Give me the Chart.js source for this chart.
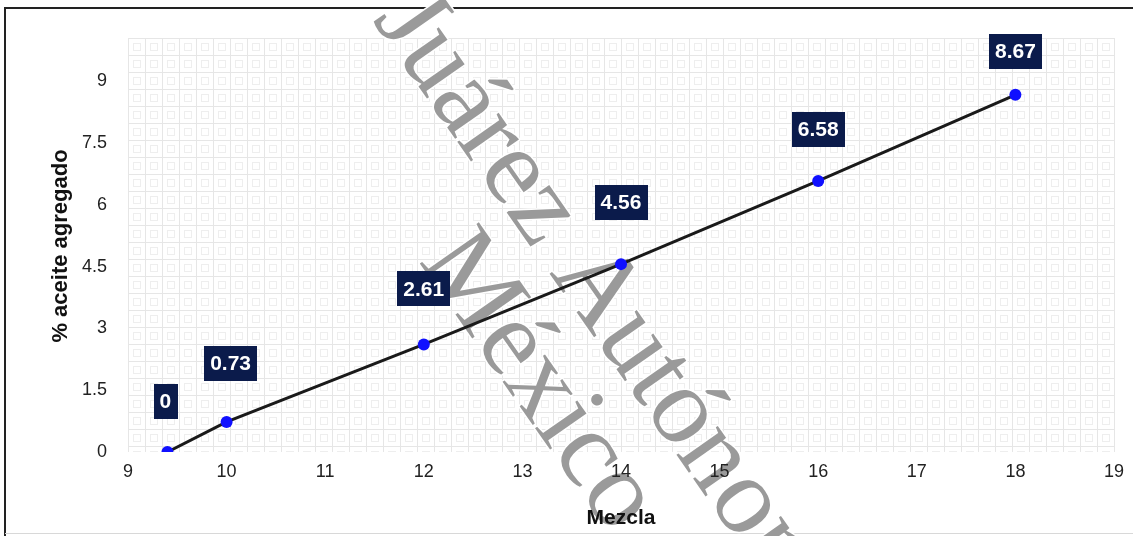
<!DOCTYPE html>
<html>
<head>
<meta charset="utf-8">
<script src="https://cdn.jsdelivr.net/npm/chart.js@4"></script>
<style>
  html, body { margin: 0; padding: 0; background: #ffffff; }
  #wrap { width: 1133px; height: 536px; }
</style>
</head>
<body>
<div id="wrap"><canvas id="c" width="1133" height="536"></canvas></div>
<script>
// Mezcla vs. % de aceite agregado
const mezcla = [9.4, 10, 12, 14, 16, 18];
const aceite = [0, 0.73, 2.61, 4.56, 6.58, 8.67];
const xTicks = [9, 10, 11, 12, 13, 14, 15, 16, 17, 18, 19];
const yTicks = [0, 1.5, 3, 4.5, 6, 7.5, 9];
const watermarkLines = ['Juárez Autónoma', 'México'];

const SANS = '"Liberation Sans", Arial, sans-serif';

// light graph-paper tile for the plot background
function makeTile() {
  const t = document.createElement('canvas');
  t.width = 17; t.height = 17;
  const g = t.getContext('2d');
  g.fillStyle = '#ffffff';
  g.fillRect(0, 0, 17, 17);
  g.strokeStyle = '#e6e6e6';
  g.lineWidth = 1;
  g.beginPath();
  g.moveTo(0.5, 0); g.lineTo(0.5, 17);
  g.moveTo(0, 0.5); g.lineTo(17, 0.5);
  g.stroke();
  g.strokeStyle = '#eeeeee';
  g.strokeRect(5.5, 5.5, 7, 7);
  return t;
}

const backdrop = {
  id: 'backdrop',
  beforeDraw(chart) {
    const { ctx, chartArea: a, width, height } = chart;
    ctx.save();
    // frame
    ctx.strokeStyle = '#222222';
    ctx.lineWidth = 2;
    ctx.beginPath();
    ctx.moveTo(5, height);
    ctx.lineTo(5, 8);
    ctx.lineTo(width, 8);
    ctx.stroke();
    ctx.strokeStyle = '#d8d8d8';
    ctx.lineWidth = 1;
    ctx.beginPath();
    ctx.moveTo(5, 533.5);
    ctx.lineTo(width, 533.5);
    ctx.stroke();

    // graph paper
    const pat = ctx.createPattern(makeTile(), 'repeat');
    ctx.translate(a.left, a.top - 2);
    ctx.fillStyle = pat;
    ctx.fillRect(0, 0, a.right - a.left + 1, a.bottom - a.top + 2);
    ctx.restore();

    // diagonal watermark
    const wm = chart.options.plugins.backdrop.watermark;
    ctx.save();
    ctx.font = wm.size + 'px "Liberation Serif", "DejaVu Serif", serif';
    ctx.textBaseline = 'alphabetic';
    ctx.textAlign = 'left';
    ctx.lineJoin = 'round';
    watermarkLines.forEach((txt, i) => {
      const o = wm.origins[i];
      ctx.save();
      ctx.translate(o[0], o[1]);
      ctx.rotate(wm.angle * Math.PI / 180);
      ctx.strokeStyle = '#ffffff';
      ctx.lineWidth = 3;
      ctx.strokeText(txt, 0, 0);
      ctx.fillStyle = '#9a9a9a';
      ctx.fillText(txt, 0, 0);
      ctx.restore();
    });
    ctx.restore();
  }
};

// value boxes above each point
const valueBoxes = {
  id: 'valueBoxes',
  afterDatasetsDraw(chart) {
    const { ctx } = chart;
    const opts = chart.options.plugins.valueBoxes;
    const meta = chart.getDatasetMeta(0);
    ctx.save();
    ctx.font = 'bold 21px ' + SANS;
    ctx.textAlign = 'center';
    ctx.textBaseline = 'middle';
    meta.data.forEach((pt, i) => {
      const txt = String(aceite[i]);
      const w = ctx.measureText(txt).width + 12;
      const h = 35;
      const cx = pt.x + (opts.shiftX[i] || 0);
      const bottom = pt.y - opts.lift[i];
      ctx.fillStyle = '#0b1b4b';
      ctx.fillRect(Math.round(cx - w / 2), Math.round(bottom - h), Math.round(w), h);
      ctx.fillStyle = '#ffffff';
      ctx.fillText(txt, cx, bottom - h / 2 + 1);
    });
    ctx.restore();
  }
};

const ctx = document.getElementById('c').getContext('2d');
new Chart(ctx, {
  type: 'scatter',
  data: {
    datasets: [{
      label: '% aceite agregado',
      data: mezcla.map((x, i) => ({ x: x, y: aceite[i] })),
      showLine: true,
      borderColor: '#1a1a1a',
      borderWidth: 3,
      pointRadius: 6,
      pointHoverRadius: 6,
      pointBackgroundColor: '#1010ff',
      pointBorderColor: '#1010ff',
      pointBorderWidth: 0,
      tension: 0
    }]
  },
  options: {
    responsive: false,
    animation: false,
    devicePixelRatio: 1,
    layout: { padding: { left: 0, top: 40, right: 15, bottom: 0 } },
    plugins: {
      legend: { display: false },
      tooltip: { enabled: false },
      backdrop: {
        watermark: { size: 110, angle: 55, origins: [[372, 20], [418, 261]] }
      },
      valueBoxes: {
        lift: [33, 41, 38, 44, 34, 26],
        shiftX: [-2, 4, 0, 0, 0, 0]
      }
    },
    scales: {
      x: {
        type: 'linear',
        min: 9,
        max: 19,
        afterBuildTicks: s => { s.ticks = xTicks.map(v => ({ value: v })); },
        afterFit: s => { s.height = 84; },
        grid: { display: false, drawTicks: false },
        border: { display: false },
        ticks: {
          padding: 9,
          color: '#222222',
          font: { family: SANS, size: 18 }
        },
        title: {
          display: true,
          text: 'Mezcla',
          color: '#111111',
          padding: { top: 0, bottom: 5 },
          font: { family: SANS, size: 21, weight: 'bold' }
        }
      },
      y: {
        type: 'linear',
        min: 0,
        max: 10,
        afterBuildTicks: s => { s.ticks = yTicks.map(v => ({ value: v })); },
        afterFit: s => { s.width = 128; },
        grid: { display: false, drawTicks: false },
        border: { display: false },
        ticks: {
          padding: 21,
          color: '#222222',
          font: { family: SANS, size: 18 }
        },
        title: {
          display: true,
          text: '% aceite agregado',
          color: '#111111',
          padding: { top: 48, bottom: 0 },
          font: { family: SANS, size: 22, weight: 'bold' }
        }
      }
    }
  },
  plugins: [backdrop, valueBoxes]
});
</script>
</body>
</html>
